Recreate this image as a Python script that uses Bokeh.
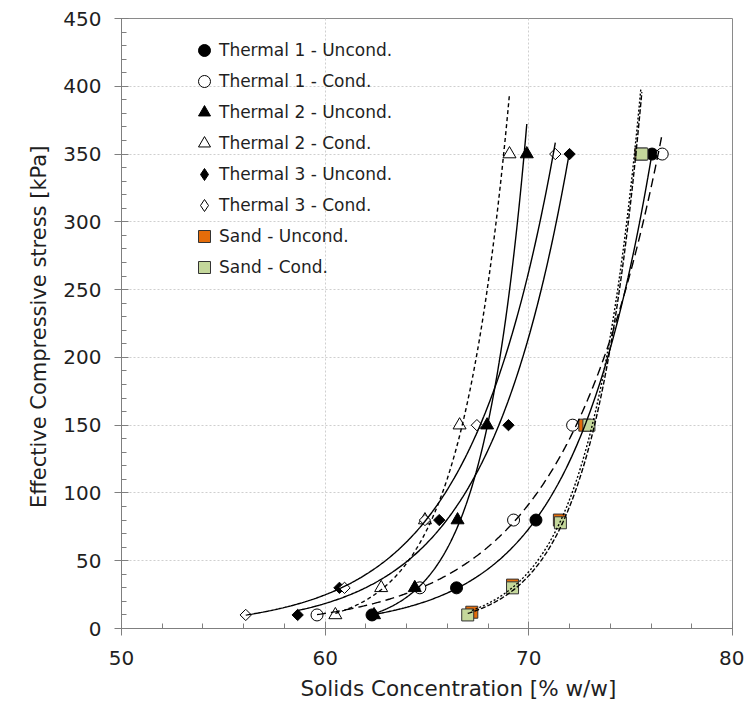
import numpy as np
from bokeh.plotting import figure
from bokeh.models import (SingleIntervalTicker, Range1d, Legend, LegendItem, Title)
from bokeh.embed import file_html
from bokeh.resources import INLINE

# ---------------- data ----------------
t1_uncond_x = [62.3, 66.45, 70.35, 72.75, 76.05]
t1_uncond_y = [10, 30, 80, 150, 350]
t1_cond_x = [59.6, 64.65, 69.25, 72.15, 76.55]
t1_cond_y = [10, 30, 80, 150, 350]
t2_uncond_x = [62.4, 64.4, 66.5, 67.95, 69.9]
t2_uncond_y = [10, 30, 80, 150, 350]
t2_cond_x = [60.5, 62.75, 64.9, 66.6, 69.05]
t2_cond_y = [10, 30, 80, 150, 350]
t3_uncond_x = [58.65, 60.7, 65.6, 69.0, 72.0]
t3_uncond_y = [10, 30, 80, 150, 350]
t3_cond_x = [56.1, 60.95, 64.9, 67.45, 71.3]
t3_cond_y = [10, 30, 80, 150, 350]
sand_uncond_x = [67.2, 69.2, 71.5, 72.75, 75.5]
sand_uncond_y = [12, 32, 80, 150, 350]
sand_cond_x = [67.0, 69.2, 71.55, 72.95, 75.55]
sand_cond_y = [10, 30, 78, 150, 350]

series_labels = ["Thermal 1 - Uncond.", "Thermal 1 - Cond.",
                 "Thermal 2 - Uncond.", "Thermal 2 - Cond.",
                 "Thermal 3 - Uncond.", "Thermal 3 - Cond.",
                 "Sand - Uncond.", "Sand - Cond."]

x_title = "Solids Concentration  [% w/w]"
y_title = "Effective Compressive  stress [kPa]"

FONT = "DejaVu Sans"
TXT = "#1f1f1f"

p = figure(width=744, height=708, x_range=Range1d(50, 80), y_range=Range1d(0, 450),
           output_backend="svg", toolbar_location=None,
           min_border_left=121, min_border_right=12, min_border_top=18, min_border_bottom=80,
           background_fill_color="white", border_fill_color="white")

p.outline_line_color = "#8a8a8a"
p.outline_line_width = 1

p.xaxis.ticker = SingleIntervalTicker(interval=10, num_minor_ticks=5)
p.yaxis.ticker = SingleIntervalTicker(interval=50, num_minor_ticks=5)

for ax in (p.xaxis[0], p.yaxis[0]):
    ax.axis_line_color = "#7f7f7f"
    ax.major_tick_line_color = "#7f7f7f"
    ax.minor_tick_line_color = "#7f7f7f"
    ax.major_tick_in = 7
    ax.major_tick_out = 7
    ax.minor_tick_in = 5
    ax.minor_tick_out = 0
    ax.major_label_text_font = FONT
    ax.major_label_text_font_size = "20px"
    ax.major_label_text_color = TXT

p.xaxis.major_label_standoff = 15
p.yaxis.major_label_standoff = 13

p.yaxis.axis_label = y_title
p.yaxis.axis_label_text_font = FONT
p.yaxis.axis_label_text_font_size = "21px"
p.yaxis.axis_label_text_font_style = "normal"
p.yaxis.axis_label_text_color = TXT
p.yaxis.axis_label_standoff = 9

xt = Title(text=x_title, align="left", offset=179, text_font=FONT, text_font_size="21.5px",
           text_font_style="normal", text_color=TXT, standoff=12)
p.add_layout(xt, "below")

for g in (p.xgrid[0], p.ygrid[0]):
    g.grid_line_color = "#cfcfcf"
    g.grid_line_dash = "2 2"
    g.grid_line_width = 1

# ---------------- markers ----------------
series = [
    (t1_uncond_x, t1_uncond_y, dict(marker="circle", size=12, fill_color="black", line_color="black"), "solid"),
    (t1_cond_x, t1_cond_y, dict(marker="circle", size=12, fill_color="white", line_color="black"), "9 5"),
    (t2_uncond_x, t2_uncond_y, dict(marker="triangle", size=13, fill_color="black", line_color="black"), "solid"),
    (t2_cond_x, t2_cond_y, dict(marker="triangle", size=13, fill_color="white", line_color="black"), "4 3"),
    (t3_uncond_x, t3_uncond_y, dict(marker="square", size=8, angle=np.pi / 4, fill_color="black", line_color="black"), "solid"),
    (t3_cond_x, t3_cond_y, dict(marker="square", size=8, angle=np.pi / 4, fill_color="white", line_color="black"), "solid"),
    (sand_uncond_x, sand_uncond_y, dict(marker="square", size=12, fill_color="#E46C0A", line_color="#333333"), "2 2"),
    (sand_cond_x, sand_cond_y, dict(marker="square", size=12, fill_color="#C4D79B", line_color="#333333"), "5 2"),
]

legend_items = []
for (xs, ys, style, dash), label in zip(series, series_labels):
    if style.get("angle") is not None:
        # legend swatch: a small diamond marker hidden under the rotated square
        lstyle = dict(style)
        lstyle.pop("angle")
        lstyle["marker"] = "diamond"
        lstyle["size"] = 6
        r_leg = p.scatter(xs, ys, line_width=1, **lstyle)
        p.scatter(xs, ys, line_width=1, **style)
        legend_items.append(LegendItem(label=label, renderers=[r_leg]))
    else:
        r = p.scatter(xs, ys, line_width=1, **style)
        legend_items.append(LegendItem(label=label, renderers=[r]))

# ---------------- exponential trendlines (least squares on ln y, over each series' x range) -------
for xs, ys, style, dash in series:
    xa = np.asarray(xs, dtype=float)
    b, a = np.polyfit(xa, np.log(np.asarray(ys, dtype=float)), 1)
    xf = np.linspace(xa.min(), xa.max(), 200)
    yf = np.exp(a + b * xf)
    p.line(xf, yf, line_color="black", line_width=1.4, line_dash=dash)

legend = Legend(items=legend_items, location=(68, 346), orientation="vertical",
                glyph_width=30, glyph_height=30, label_height=30, spacing=1,
                label_standoff=-7, padding=0, margin=0,
                label_text_font=FONT, label_text_font_size="17px", label_text_color=TXT,
                border_line_alpha=0, background_fill_alpha=0)
p.add_layout(legend, "center")

open("out.html", "w").write(file_html(p, INLINE))
